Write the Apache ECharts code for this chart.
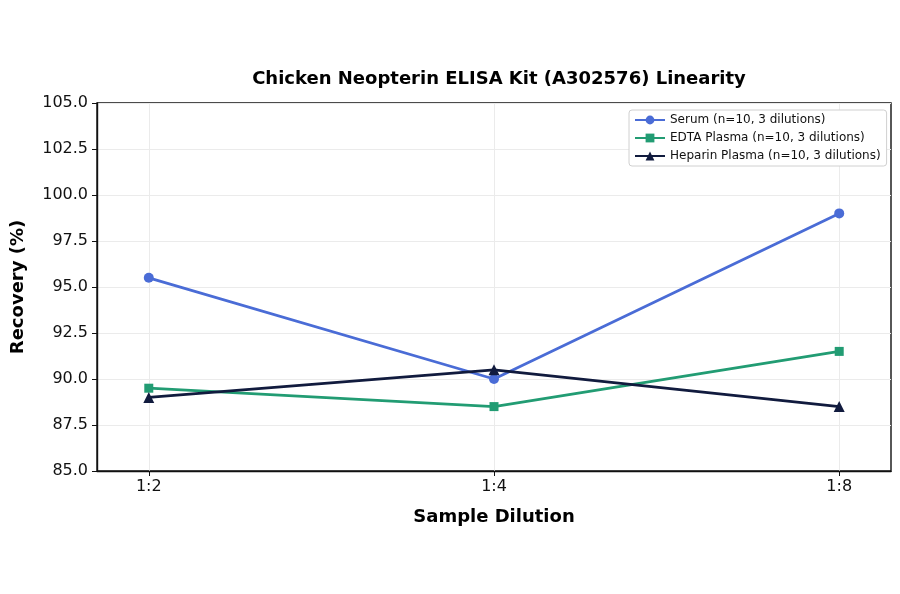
<html>
<head>
    <meta charset="utf-8">
    <title>Chicken Neopterin ELISA Kit Linearity</title>
    <script src="https://cdn.jsdelivr.net/npm/echarts@6/dist/echarts.min.js"></script>
    <style>
        html, body { margin: 0; padding: 0; background: #fff; }
    </style>
</head>
<body>
    <div id="main" style="width: 900px;height:594px;"></div>
</body>
<script type="text/javascript">
    var dilutions = ['1:2', '1:4', '1:8'];
    var serum = [95.5, 90.0, 99.0];
    var edta = [89.5, 88.5, 91.5];
    var heparin = [89.0, 90.5, 88.5];
    var seriesNames = ['Serum (n=10, 3 dilutions)', 'EDTA Plasma (n=10, 3 dilutions)', 'Heparin Plasma (n=10, 3 dilutions)'];

    function toPoints(arr) {
        return arr.map(function (v, i) { return [i, v]; });
    }

    var font = 'DejaVu Sans';
    var catIdx = dilutions.map(function (d, i) { return i; });

    function makeSeries(name, data, color, symbol, size) {
        return {
            name: name,
            type: 'line',
            data: toPoints(data),
            symbol: symbol,
            symbolSize: size,
            lineStyle: { color: color, width: 2.8 },
            itemStyle: { color: color },
            z: 3
        };
    }

    var myChart = echarts.init(document.getElementById('main'));

    var option = {
        backgroundColor: '#fff',
        animation: false,
        title: {
            text: 'Chicken Neopterin ELISA Kit (A302576) Linearity',
            left: 494,
            textAlign: 'center',
            top: 65,
            textStyle: { fontFamily: font, fontSize: 18, fontWeight: 'bold', color: '#000' }
        },
        legend: {
            data: seriesNames,
            orient: 'vertical',
            left: 629,
            top: 110,
            padding: [3, 6, 3, 5],
            itemGap: 4,
            itemWidth: 30,
            itemHeight: 11,
            backgroundColor: '#fff',
            borderColor: '#d0d0d0',
            borderWidth: 1,
            borderRadius: 3,
            textStyle: { fontFamily: font, fontSize: 12, color: '#111', lineHeight: 14 }
        },
        grid: {
            left: 97,
            right: 9,
            top: 103,
            bottom: 123,
            show: true,
            borderColor: '#111',
            borderWidth: 1.4,
            containLabel: false
        },
        xAxis: {
            type: 'value',
            min: -0.15,
            max: 2.15,
            name: 'Sample Dilution',
            nameLocation: 'middle',
            nameGap: 37,
            nameTextStyle: { fontFamily: font, fontSize: 18, fontWeight: 'bold', color: '#000' },
            axisLine: { show: true, onZero: false, lineStyle: { color: '#111', width: 1.4 } },
            axisTick: { show: true, length: 5, customValues: catIdx, lineStyle: { color: '#111' } },
            axisLabel: {
                customValues: catIdx,
                fontFamily: font, fontSize: 16, color: '#111', margin: 8,
                formatter: function (v) { return dilutions[Math.round(v)]; }
            },
            splitLine: { show: true, lineStyle: { color: '#ebebeb', width: 1 } }
        },
        yAxis: {
            type: 'value',
            min: 85,
            max: 105,
            interval: 2.5,
            name: 'Recovery (%)',
            nameLocation: 'middle',
            nameGap: 70,
            nameTextStyle: { fontFamily: font, fontSize: 18, fontWeight: 'bold', color: '#000' },
            axisLine: { show: true, onZero: false, lineStyle: { color: '#111', width: 1.4 } },
            axisTick: { show: true, length: 5, lineStyle: { color: '#111' } },
            axisLabel: {
                fontFamily: font, fontSize: 16, color: '#111', margin: 9,
                formatter: function (v) { return v.toFixed(1); }
            },
            splitLine: { show: true, lineStyle: { color: '#ebebeb', width: 1 } }
        },
        series: [
            makeSeries(seriesNames[0], serum, '#4a6cd6', 'circle', 10),
            makeSeries(seriesNames[1], edta, '#229c73', 'rect', 9),
            makeSeries(seriesNames[2], heparin, '#111b3e', 'triangle', 11)
        ]
    };

    myChart.setOption(option);
</script>
</html>
